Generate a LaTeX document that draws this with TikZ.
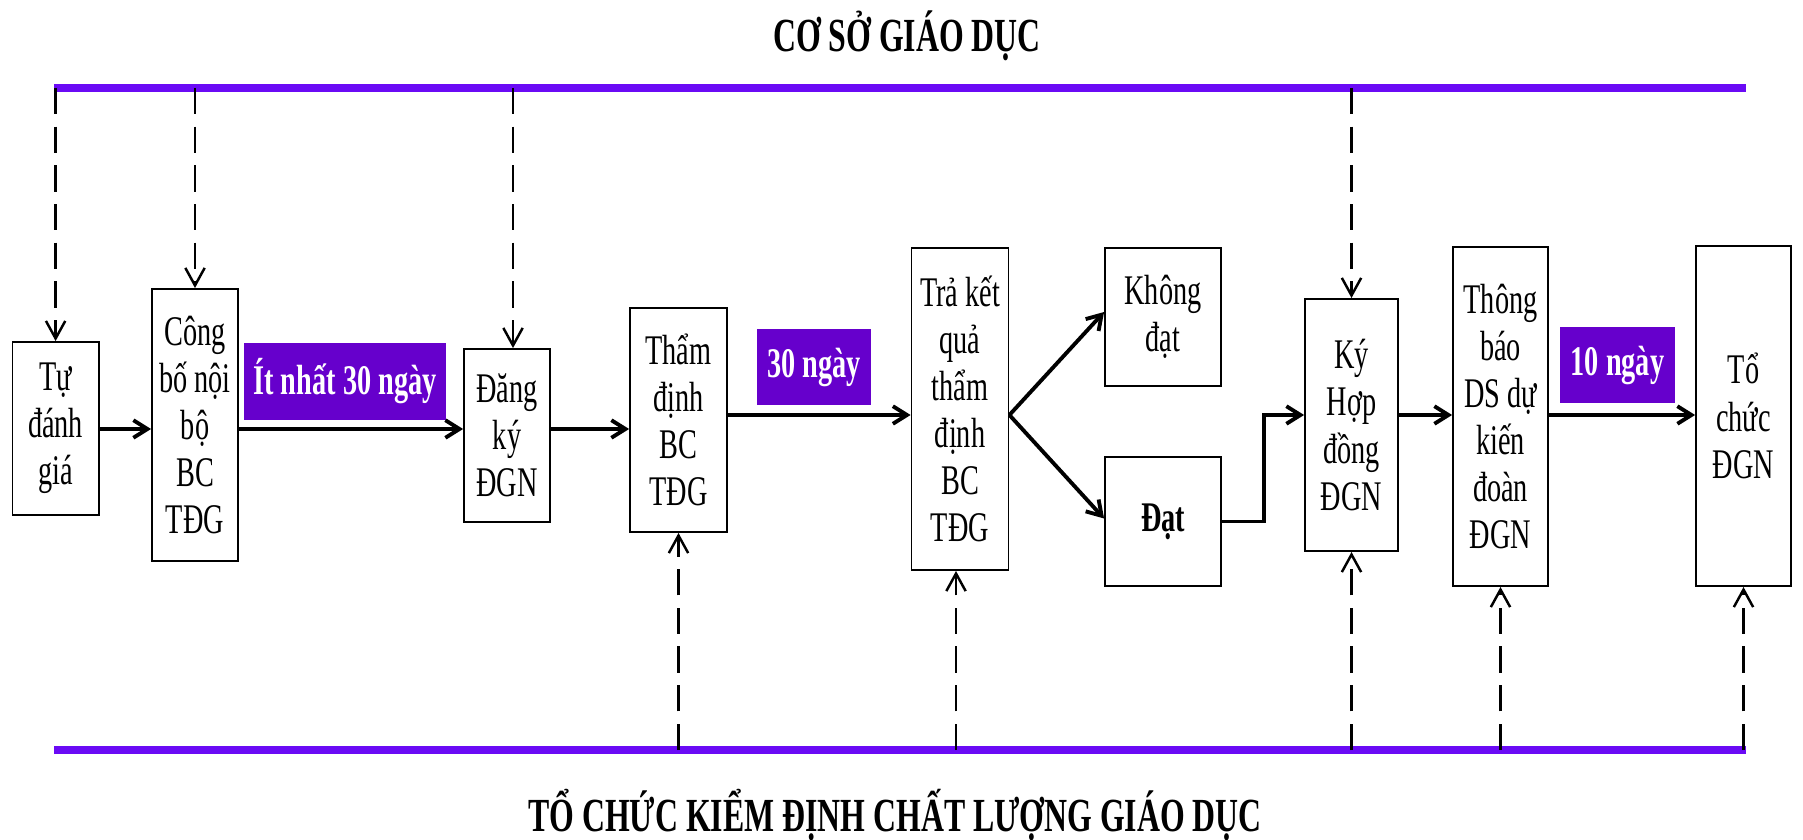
\documentclass[tikz,border=0pt]{standalone}
\usepackage{fontspec}
\setmainfont{Liberation Serif}[FakeStretch=0.67]
\usepackage{tikz}
\usetikzlibrary{arrows.meta}
\definecolor{laneviolet}{HTML}{6A0AF5}
\definecolor{tagviolet}{HTML}{6600CC}

\begin{document}
\begin{tikzpicture}[
    x=0.01cm, y=-0.01cm,
    procbox/.style={draw, line width=0.5pt, align=center, inner sep=0pt,
                    font=\fontsize{12}{13.4}\selectfont},
    daybox/.style={fill=tagviolet, text=white, inner sep=0pt, align=center,
                   font=\fontsize{12}{14}\selectfont\bfseries},
    lane/.style={line width=2pt, color=laneviolet},
    flow/.style={-{Straight Barb[length=4pt,width=5pt]}, line width=1.1pt},
    feed/.style={-{Straight Barb[length=5pt,width=5.5pt]}, line width=0.7pt,
                 dash pattern=on 7.5pt off 3.5pt},
    title/.style={font=\fontsize{13.5}{15}\selectfont\bfseries, anchor=base}
  ]
    \useasboundingbox (0,0) rectangle (1803,840);

    \coordinate (upperL) at (54,88);
    \coordinate (upperR) at (1746,88);
    \coordinate (lowerL) at (54,750);
    \coordinate (lowerR) at (1746,750);
    \coordinate (rowA) at (0,429);
    \coordinate (rowB) at (0,415);

    \node[title] (school) at (907,52) {CƠ SỞ GIÁO DỤC};
    \node[title] (agency) at (895,831) {TỔ CHỨC KIỂM ĐỊNH CHẤT LƯỢNG GIÁO DỤC};

    \draw[lane] (upperL) -- (upperR);
    \draw[lane] (lowerL) -- (lowerR);

    \node[procbox, minimum width=0.86cm, minimum height=1.73cm] (tudanh) at (55.6,428.5) {Tự\\đánh\\giá};
    \node[procbox, minimum width=0.86cm, minimum height=2.72cm] (congbo) at (195,425) {Công\\bố nội\\bộ\\BC\\TĐG};
    \node[daybox, minimum width=2.02cm, minimum height=0.77cm] (least30) at (345,381.5) {Ít nhất 30 ngày};
    \node[procbox, minimum width=0.86cm, minimum height=1.73cm] (dangky) at (507,435.5) {Đăng\\ký\\ĐGN};
    \node[procbox, minimum width=0.97cm, minimum height=2.24cm] (thamdinh) at (678.5,420) {Thẩm\\định\\BC\\TĐG};
    \node[daybox, minimum width=1.14cm, minimum height=0.76cm] (days30) at (814,367) {30 ngày};
    \node[procbox, minimum width=0.97cm, minimum height=3.22cm] (traketqua) at (960,409) {Trả kết\\quả\\thẩm\\định\\BC\\TĐG};
    \node[procbox, minimum width=1.16cm, minimum height=1.38cm] (khongdat) at (1163,317) {Không\\đạt};
    \node[procbox, minimum width=1.16cm, minimum height=1.29cm] (dat) at (1163,521.5) {\textbf{Đạt}};
    \node[procbox, minimum width=0.93cm, minimum height=2.52cm] (kyhd) at (1351.5,425) {Ký\\Hợp\\đồng\\ĐGN};
    \node[procbox, minimum width=0.95cm, minimum height=3.39cm] (thongbao) at (1500.5,416.5) {Thông\\báo\\DS dự\\kiến\\đoàn\\ĐGN};
    \node[daybox, minimum width=1.15cm, minimum height=0.76cm] (days10) at (1617.5,365) {10 ngày};
    \node[procbox, minimum width=0.95cm, minimum height=3.40cm] (tochuc) at (1743.5,416) {Tổ\\chức\\ĐGN};

    \draw[flow] (tudanh.east |- rowA) -- (congbo.west |- rowA);
    \draw[flow] (congbo.east |- rowA) -- (dangky.west |- rowA);
    \draw[flow] (dangky.east |- rowA) -- (thamdinh.west |- rowA);
    \draw[flow] (thamdinh.east |- rowB) -- (traketqua.west |- rowB);
    \draw[flow] (traketqua.east |- rowB) -- ([yshift=0.05cm]khongdat.west);
    \draw[flow] (traketqua.east |- rowB) -- ([yshift=0.03cm]dat.west);
    \draw[flow] (dat.east) -- ++(42,0) |- (kyhd.west |- rowB);
    \draw[flow] (kyhd.east |- rowB) -- (thongbao.west |- rowB);
    \draw[flow] (thongbao.east |- rowB) -- (tochuc.west |- rowB);

    \draw[feed] (tudanh.north |- upperL) -- (tudanh.north);
    \draw[feed] (congbo.north |- upperL) -- (congbo.north);
    \draw[feed] ([xshift=0.06cm]dangky.north |- upperL) -- ([xshift=0.06cm]dangky.north);
    \draw[feed] (kyhd.north |- upperL) -- (kyhd.north);

    \draw[feed] (thamdinh.south |- lowerL) -- (thamdinh.south);
    \draw[feed] ([xshift=-0.04cm]traketqua.south |- lowerL) -- ([xshift=-0.04cm]traketqua.south);
    \draw[feed] (kyhd.south |- lowerL) -- (kyhd.south);
    \draw[feed] (thongbao.south |- lowerL) -- (thongbao.south);
    \draw[feed] (tochuc.south |- lowerL) -- (tochuc.south);
  \end{tikzpicture}
\end{document}
